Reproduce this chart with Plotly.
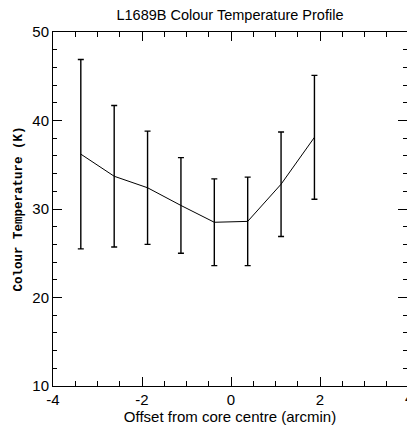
import plotly.graph_objects as go

# Data
offset_arcmin = [-3.375, -2.625, -1.875, -1.125, -0.375, 0.375, 1.125, 1.875]
colour_temp = [36.2, 33.7, 32.4, 30.4, 28.5, 28.6, 32.8, 38.1]
temp_upper = [46.9, 41.7, 38.8, 35.8, 33.4, 33.6, 38.7, 45.1]
temp_lower = [25.5, 25.7, 26.0, 25.0, 23.6, 23.6, 26.9, 31.1]

x_tickvals = [-4, -2, 0, 2, 4]
x_ticktext = ["-4", "-2", "0", "2", "4"]
y_tickvals = [10, 20, 30, 40, 50]

err_plus = [u - v for u, v in zip(temp_upper, colour_temp)]
err_minus = [v - l for v, l in zip(colour_temp, temp_lower)]

X_MIN = -4
X_MAX = 3.955  # right edge of the plot lies just outside the window
Y_MIN, Y_MAX = 10, 50

fig = go.Figure()
fig.add_trace(go.Scatter(
    x=offset_arcmin, y=colour_temp, mode="lines",
    line=dict(color="black", width=1),
    error_y=dict(type="data", symmetric=False, array=err_plus, arrayminus=err_minus,
                 color="black", thickness=1.4, width=3),
    showlegend=False,
))

sans = "Liberation Sans, Arial, sans-serif"
axis_font = dict(family=sans, size=15, color="black")

fig.update_layout(
    width=407, height=427,
    margin=dict(l=53, r=0, t=32, b=41),
    paper_bgcolor="white", plot_bgcolor="white",
    title=dict(text="L1689B Colour Temperature Profile", x=0.565, xanchor="center",
               y=0.965, yanchor="middle",
               font=dict(family=sans, size=14.5, color="black")),
    font=axis_font,
    xaxis=dict(
        range=[X_MIN, X_MAX], tickvals=x_tickvals, ticktext=x_ticktext,
        ticks="inside", ticklen=9, tickwidth=1, tickcolor="black",
        minor=dict(dtick=0.5, ticks="inside", ticklen=5, tickcolor="black"),
        showline=True, linecolor="black", linewidth=1, mirror="allticks",
        showgrid=False, zeroline=False, tickfont=axis_font,
        title=dict(text="Offset from core centre (arcmin)", standoff=2,
                   font=dict(family=sans, size=15, color="black")),
    ),
    yaxis=dict(
        range=[Y_MIN, Y_MAX], tickvals=y_tickvals,
        ticks="inside", ticklen=9, tickwidth=1, tickcolor="black",
        minor=dict(dtick=2, ticks="inside", ticklen=4, tickcolor="black"),
        showline=True, linecolor="black", linewidth=1, mirror="allticks",
        showgrid=False, zeroline=False, tickfont=axis_font,
        title=dict(text="<b>Colour Temperature (K)</b>", standoff=6,
                   font=dict(family="Liberation Mono, Courier New, monospace", size=12.5, color="black")),
    ),
)

# partial "4" label at the clipped right edge (position computed from the axis range)
fig.add_annotation(x=(4 - X_MIN) / (X_MAX - X_MIN), y=Y_MIN, xref="paper", yref="y",
                   text="4", showarrow=False, xanchor="center",
                   yanchor="top", yshift=-1, font=axis_font)

fig.write_html("out.html", config={"displayModeBar": False},
               post_script="document.body.style.margin='0';document.body.style.overflow='hidden';document.documentElement.style.overflow='hidden';")
